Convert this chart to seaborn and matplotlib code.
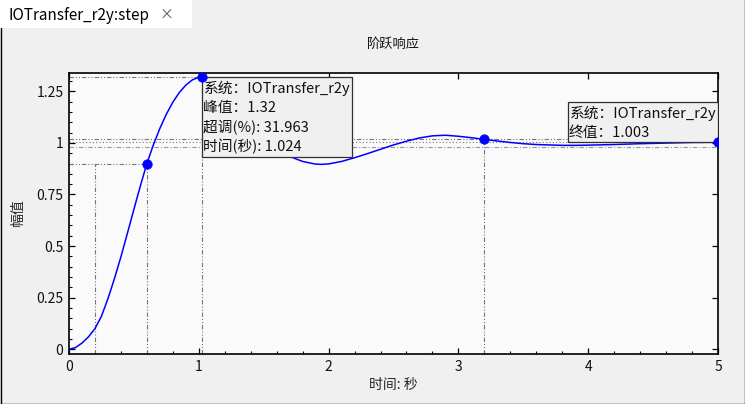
import matplotlib
matplotlib.use("Agg")
import matplotlib.pyplot as plt
import matplotlib.transforms as mtransforms
from matplotlib.patches import Rectangle
from matplotlib.lines import Line2D
from matplotlib.ticker import MultipleLocator, FuncFormatter
import seaborn as sns

# --- 1. Datos ---
tiempo = [0.0, 0.05, 0.1, 0.15, 0.2, 0.25, 0.3, 0.35, 0.4, 0.45, 0.5, 0.55,
          0.6, 0.65, 0.7, 0.75, 0.8, 0.85, 0.9, 0.95, 1.0, 1.024, 1.1, 1.2,
          1.3, 1.4, 1.5, 1.6, 1.7, 1.75, 1.8, 1.9, 1.95, 2.0, 2.1, 2.2, 2.3,
          2.4, 2.5, 2.6, 2.7, 2.8, 2.9, 3.0, 3.1, 3.2, 3.3, 3.4, 3.5, 3.6,
          3.7, 3.8, 3.9, 4.0, 4.2, 4.4, 4.6, 4.8, 5.0]
respuesta = [0.0, 0.008, 0.03, 0.06, 0.10, 0.16, 0.245, 0.342, 0.448, 0.562,
             0.678, 0.792, 0.90, 0.99, 1.07, 1.139, 1.197, 1.244, 1.28, 1.305,
             1.318, 1.32, 1.31, 1.27, 1.20, 1.12, 1.04, 0.975, 0.935, 0.922,
             0.91, 0.897, 0.896, 0.898, 0.91, 0.928, 0.948, 0.969, 0.99, 1.008,
             1.024, 1.034, 1.037, 1.032, 1.025, 1.017, 1.009, 1.002, 0.996,
             0.992, 0.990, 0.988, 0.988, 0.989, 0.992, 0.996, 0.999, 1.002,
             1.003]

sistema = "IOTransfer_r2y"
pico_t, pico_v = 1.024, 1.32
sobreimpulso = 31.963
subida_ini_t = 0.2
subida_t, subida_v = 0.6, 0.9
asent_t, asent_v = 3.2, 1.017
final_t, final_v = 5.0, 1.003
banda = [0.98, 1.02]

x_ticks = [0, 1, 2, 3, 4, 5]
y_ticks = [0, 0.25, 0.5, 0.75, 1, 1.25]

# --- 2. Estilo ---
sns.set_style("ticks")
plt.rcParams['font.family'] = ['Noto Sans CJK SC', 'DejaVu Sans']
plt.rcParams['lines.scale_dashes'] = False

W, H = 745, 404
fig = plt.figure(figsize=(W / 100, H / 100), dpi=100, facecolor='#f0f0f0')
ax = fig.add_axes([69 / W, 1 - 354 / H, (718 - 69) / W, (354 - 72.5) / H])
ax.set_facecolor('#fafafa')
ax.set_xlim(0, 5)
ax.set_ylim(-0.023, 1.341)

gris = '#777777'
ddp = (0, (3.2, 1.4, 0.8, 1.4, 0.8, 1.4))
dp = (0, (3.2, 1.4, 0.8, 1.4))
ymin = ax.get_ylim()[0]

# --- 3. Lineas guia ---
ax.hlines(pico_v, 0, pico_t, color=gris, lw=0.8, ls=ddp, zorder=1)
ax.vlines(pico_t, ymin, pico_v, color=gris, lw=0.8, ls=ddp, zorder=1)
ax.hlines(subida_v, 0, subida_t, color=gris, lw=0.8, ls=ddp, zorder=1)
ax.vlines([subida_ini_t, subida_t], ymin, subida_v, color=gris, lw=0.8, ls=ddp, zorder=1)
ax.vlines(asent_t, ymin, asent_v, color=gris, lw=0.8, ls=ddp, zorder=1)
ax.axhline(banda[1], color=gris, lw=0.8, ls=ddp, zorder=1)
ax.axhline(final_v, color=gris, lw=0.8, ls=(0, (0.8, 1.6)), zorder=1)
ax.axhline(banda[0], color='#999999', lw=0.8, ls=dp, zorder=1)

# --- 4. Curva y puntos ---
sns.lineplot(x=tiempo, y=respuesta, color='#0000ff', lw=1.1, ax=ax, zorder=2)
sns.scatterplot(x=[subida_t, pico_t, asent_t, final_t],
                y=[subida_v, pico_v, asent_v, final_v],
                color='#0000ff', edgecolor='#0000ff', s=46, ax=ax, zorder=6)


def caja(ax, x, y, ancho, alto, lineas, abajo_derecha=False):
    px, py = ax.transData.transform((x, y))
    if abajo_derecha:
        left, top = px - ancho, py + alto
    else:
        left, top = px, py
    x0, y0 = ax.transData.inverted().transform((left, top - alto))
    x1, y1 = ax.transData.inverted().transform((left + ancho, top))
    rect = Rectangle((x0, y0), x1 - x0, y1 - y0, fc='#f0f0f0', ec='#303030',
                     lw=0.9, zorder=4)
    ax.add_patch(rect)
    xa, ya = ax.transData.inverted().transform((left, top))
    for i, s in enumerate(lineas):
        tr = mtransforms.offset_copy(ax.transData, fig=ax.figure, x=1,
                                     y=-(11.5 + 19.5 * i), units='dots')
        t = ax.text(xa, ya, s, transform=tr, ha='left', va='center',
                    fontsize=10.6, color='#111111', zorder=5)
        t.set_clip_path(rect)


caja(ax, pico_t, pico_v, 150, 80,
     [f"系统：{sistema}", f"峰值：{pico_v:g}",
      f"超调(%): {sobreimpulso}", f"时间(秒): {pico_t}"])
caja(ax, final_t, final_v, 150, 40,
     [f"系统：{sistema}", f"终值：{final_v}"], abajo_derecha=True)

# --- 5. Ejes ---
ax.xaxis.set_major_locator(MultipleLocator(1))
ax.xaxis.set_minor_locator(MultipleLocator(0.2))
ax.yaxis.set_major_locator(MultipleLocator(0.25))
ax.yaxis.set_minor_locator(MultipleLocator(0.05))
ax.set_xticks(x_ticks)
ax.set_yticks(y_ticks)
fmt = FuncFormatter(lambda v, p: f"{v:g}")
ax.xaxis.set_major_formatter(fmt)
ax.yaxis.set_major_formatter(fmt)
ax.tick_params(which='both', direction='in', color='black', labelsize=10,
               labelcolor='#111111', pad=4)
ax.tick_params(which='major', length=4, width=0.9, top=True, right=True)
ax.tick_params(which='minor', length=2.3, width=0.8, top=False, right=False)
for sp in ax.spines.values():
    sp.set_visible(True)
    sp.set_color('black')
    sp.set_linewidth(1.2)

ax.set_xlabel("时间: 秒", fontsize=10, labelpad=3)
ax.set_ylabel("幅值", fontsize=10, labelpad=8)
fig.text((69 + 718) / 2 / W, 1 - 44 / H, "阶跃响应", ha='center', va='center',
         fontsize=9.5, color='#111111')

# --- 6. Pestana y marco ---
fig.add_artist(Rectangle((0, 1 - 28 / H), 192 / W, 28 / H, fc='white',
                         ec='none', transform=fig.transFigure, zorder=0))
fig.text(9 / W, 1 - 15 / H, "IOTransfer_r2y:step", ha='left', va='center',
         fontsize=11, color='black')
fig.text(166 / W, 1 - 15 / H, "×", ha='center', va='center', fontsize=10,
         color='#555555')
fig.add_artist(Line2D([0.5 / W, 0.5 / W], [0, 1 - 28 / H], color='black',
                      lw=1.0, transform=fig.transFigure))
fig.add_artist(Line2D([0, 1], [0.5 / H, 0.5 / H], color='black', lw=1.0,
                      transform=fig.transFigure))
fig.add_artist(Line2D([1 - 0.5 / W, 1 - 0.5 / W], [0, 1], color='black',
                      lw=1.0, transform=fig.transFigure))

fig.savefig("out.png", dpi=100, facecolor=fig.get_facecolor())
